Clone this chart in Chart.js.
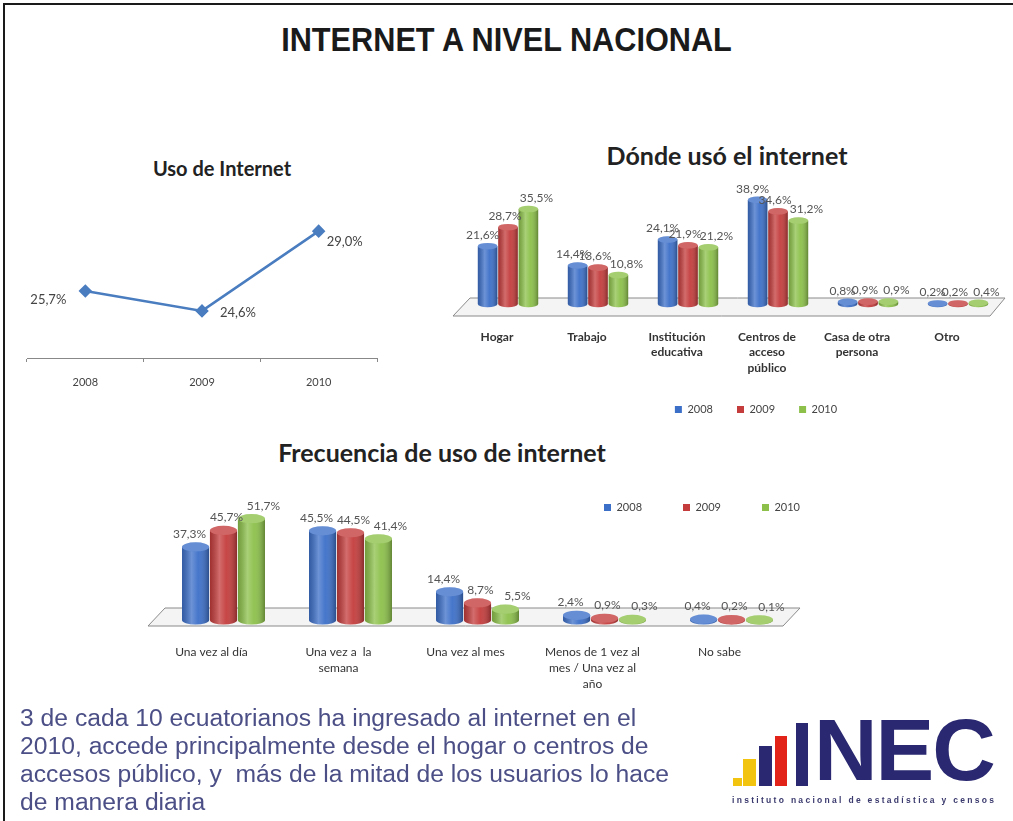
<!DOCTYPE html>
<html>
<head>
<meta charset="utf-8">
<script src="https://cdn.jsdelivr.net/npm/chart.js@4"></script>
<style>
  body { margin: 0; background: #fff; width: 1013px; height: 821px; overflow: hidden; position: relative; }
  .frame { position: absolute; left: 3px; top: 3px; width: 1010px; height: 818px; border-left: 2px solid #1a1a1a; border-top: 2px solid #1a1a1a; }
  .main-title { position: absolute; left: 0; top: 22px; width: 1013px; text-align: center; font: bold 33px "Liberation Sans Narrow", "Liberation Sans", sans-serif; line-height: 36px; color: #1a1a1a; transform: scaleX(0.93); }
  .chart-title { position: absolute; font-family: Lato, "Open Sans", sans-serif; font-weight: bold; color: #222; white-space: nowrap; transform: translate(-50%, -50%); }
  .box { position: absolute; }
  .note { position: absolute; left: 20px; top: 704px; font: 24.7px "Liberation Sans", Arial, sans-serif; line-height: 28px; color: #4b4f86; white-space: pre; }
  .logo { position: absolute; left: 730px; top: 718px; width: 270px; height: 90px; }
  .logo .bar { position: absolute; bottom: 22px; }
  .logo .nec { position: absolute; left: 84px; top: -12px; font: bold 88px "Liberation Sans", Arial, sans-serif; color: #2a2870; letter-spacing: -2px; line-height: 88px; }
  .logo .sub { position: absolute; left: 2px; top: 77px; font: bold 8.5px "Liberation Sans", Arial, sans-serif; color: #3b3a6e; letter-spacing: 2.3px; white-space: nowrap; }
</style>
</head>
<body>
<div class="frame"></div>
<div class="main-title">INTERNET A NIVEL NACIONAL</div>

<div class="chart-title" style="left:222px; top:168px; font-size:20px;">Uso de Internet</div>
<div class="chart-title" style="left:727px; top:155px; font-size:25px;">Dónde usó el internet</div>
<div class="chart-title" style="left:442px; top:452px; font-size:25px;">Frecuencia de uso de internet</div>

<div class="box" style="left:15px; top:200px; width:380px; height:205px;"><canvas id="usoChart"></canvas></div>
<div class="box" style="left:440px; top:170px; width:620px; height:255px;"><canvas id="dondeChart"></canvas></div>
<div class="box" style="left:100px; top:490px; width:720px; height:215px;"><canvas id="frecChart"></canvas></div>

<div class="note">3 de cada 10 ecuatorianos ha ingresado al internet en el
2010, accede principalmente desde el hogar o centros de
accesos público, y  más de la mitad de los usuarios lo hace
de manera diaria</div>

<div class="logo">
  <div class="bar" style="left:3px; width:9px; height:8px; background:#f2c40f;"></div>
  <div class="bar" style="left:13px; width:13px; height:27px; background:#f2c40f;"></div>
  <div class="bar" style="left:29px; width:13px; height:40px; background:#2a2870;"></div>
  <div class="bar" style="left:45px; width:12px; height:50px; background:#e2231a;"></div>
  <div class="bar" style="left:66px; width:12px; height:63px; background:#2a2870;"></div>
  <div class="nec">NEC</div>
  <div class="sub">instituto nacional de estadística y censos</div>
</div>

<script>
  // ---- data ----
  const usoYears = ['2008', '2009', '2010'];
  const usoValues = [25.7, 24.6, 29.0];

  const seriesYears = ['2008', '2009', '2010'];
  const seriesColors = ['#3c6fc8', '#c43c3c', '#8cc04a'];

  const dondeCats = [['Hogar'], ['Trabajo'], ['Institución', 'educativa'], ['Centros de', 'acceso', 'público'], ['Casa de otra', 'persona'], ['Otro']];
  const donde2008 = [21.6, 14.4, 24.1, 38.9, 0.8, 0.2];
  const donde2009 = [28.7, 13.6, 21.9, 34.6, 0.9, 0.2];
  const donde2010 = [35.5, 10.8, 21.2, 31.2, 0.9, 0.4];

  const frecCats = [['Una vez al día'], ['Una vez a  la', 'semana'], ['Una vez al mes'], ['Menos de 1 vez al', 'mes / Una vez al', 'año'], ['No sabe']];
  const frec2008 = [37.3, 45.5, 14.4, 2.4, 0.4];
  const frec2009 = [45.7, 44.5, 8.7, 0.9, 0.2];
  const frec2010 = [51.7, 41.4, 5.5, 0.3, 0.1];

  const FONT = 'Lato, "Open Sans", sans-serif';
  function pct(v) { return v.toFixed(1).replace('.', ',') + '%'; }

  // value labels next to each point / bar
  const valueLabels = {
    id: 'valueLabels',
    afterDatasetsDraw(chart, args, opts) {
      const ctx = chart.ctx;
      ctx.save();
      ctx.font = opts.font || ('12px ' + FONT);
      ctx.fillStyle = opts.color || '#555';
      ctx.textAlign = 'center';
      ctx.textBaseline = 'middle';
      chart.data.datasets.forEach((ds, di) => {
        const meta = chart.getDatasetMeta(di);
        meta.data.forEach((el, i) => {
          let dx = 0, dy = opts.dy || -12;
          if (opts.offsets) { dx = opts.offsets[i][0]; dy = opts.offsets[i][1]; }
          if (opts.dsDx) dx += opts.dsDx[di];
          ctx.fillText(pct(ds.data[i]), el.x + dx, el.y + dy);
        });
      });
      ctx.restore();
    }
  };

  // thin 3D-ish floor under the bars
  const floor = {
    id: 'floor',
    beforeDatasetsDraw(chart, args, o) {
      const a = chart.chartArea;
      const y0 = chart.scales.y.getPixelForValue(0);
      const ctx = chart.ctx;
      ctx.save();
      ctx.beginPath();
      ctx.moveTo(a.left + o.backL, y0 + o.back);
      ctx.lineTo(a.right + o.backR, y0 + o.back);
      ctx.lineTo(a.right + o.frontR, y0 + o.front);
      ctx.lineTo(a.left + o.frontL, y0 + o.front);
      ctx.closePath();
      ctx.fillStyle = '#f4f4f4';
      ctx.fill();
      ctx.strokeStyle = '#8a8a8a';
      ctx.lineWidth = 1;
      ctx.stroke();
      ctx.restore();
    }
  };

  // cylinder shading on top of the flat bars
  const cylinders = {
    id: 'cylinders',
    afterDatasetsDraw(chart) {
      const ctx = chart.ctx;
      ctx.save();
      chart.data.datasets.forEach((ds, di) => {
        const meta = chart.getDatasetMeta(di);
        meta.data.forEach(el => {
          const p = el.getProps(['x', 'y', 'base', 'width'], true);
          const l = p.x - p.width / 2;
          const ry = p.width * 0.17;
          const g = ctx.createLinearGradient(l, 0, l + p.width, 0);
          g.addColorStop(0, 'rgba(0,0,0,0.18)');
          g.addColorStop(0.35, 'rgba(255,255,255,0.25)');
          g.addColorStop(0.6, 'rgba(255,255,255,0.05)');
          g.addColorStop(1, 'rgba(0,0,0,0.3)');
          ctx.beginPath();
          ctx.ellipse(p.x, p.base, p.width / 2, ry, 0, 0, Math.PI);
          ctx.fillStyle = ds.backgroundColor;
          ctx.fill();
          ctx.fillStyle = g;
          ctx.fill();
          ctx.fillRect(l, p.y, p.width, p.base - p.y);
          ctx.beginPath();
          ctx.ellipse(p.x, p.y, p.width / 2, ry, 0, 0, Math.PI * 2);
          ctx.fillStyle = ds.backgroundColor;
          ctx.fill();
          ctx.fillStyle = 'rgba(255,255,255,0.22)';
          ctx.fill();
        });
      });
      ctx.restore();
    }
  };

  function legendLabels(spacer) {
    return {
      font: { family: FONT, size: 11 },
      color: '#444',
      boxWidth: 7,
      boxHeight: 7,
      padding: 10,
      generateLabels(chart) {
        const items = Chart.defaults.plugins.legend.labels.generateLabels(chart);
        return items.map((it, i) => Object.assign(it, { text: i < items.length - 1 ? it.text + spacer : it.text }));
      }
    };
  }

  function barSets(arrs, cp, bp) {
    return arrs.map((arr, i) => ({
      label: seriesYears[i],
      data: arr,
      backgroundColor: seriesColors[i],
      borderWidth: 0,
      categoryPercentage: cp,
      barPercentage: bp,
      clip: false
    }));
  }

  // invisible axis used only to reserve room beside the plot
  function spacerAxis(pos, w) {
    return {
      position: pos, display: true,
      grid: { display: false }, border: { display: false }, ticks: { display: false },
      afterFit(s) { s.width = w; }
    };
  }

  Chart.defaults.animation = false;
  Chart.defaults.responsive = true;
  Chart.defaults.maintainAspectRatio = false;

  // ---- Uso de Internet ----
  new Chart(document.getElementById('usoChart'), {
    type: 'line',
    data: {
      labels: usoYears,
      datasets: [{
        data: usoValues,
        borderColor: '#4a7dc0',
        backgroundColor: '#4a7dc0',
        borderWidth: 2.5,
        pointStyle: 'rectRot',
        pointRadius: 5,
        tension: 0
      }]
    },
    options: {
      layout: { padding: { left: 12, right: 18, top: 13, bottom: 7 } },
      plugins: {
        legend: { display: false },
        tooltip: { enabled: false },
        valueLabels: { font: '13px ' + FONT, color: '#444', offsets: [[-37, 9], [36, 2], [26, 11]] }
      },
      scales: {
        x: {
          offset: true,
          grid: { offset: true, drawOnChartArea: false, tickLength: 4, color: '#888' },
          border: { color: '#888' },
          ticks: { padding: 14, color: '#444', font: { family: FONT, size: 11 } },
          afterFit(s) { s.height = 40; }
        },
        y: { display: false, min: 22, max: 30 }
      }
    },
    plugins: [valueLabels]
  });

  // ---- Dónde usó el internet ----
  new Chart(document.getElementById('dondeChart'), {
    type: 'bar',
    data: { labels: dondeCats, datasets: barSets([donde2008, donde2009, donde2010], 0.68, 0.96) },
    options: {
      layout: { padding: { left: 12, right: 0, top: 27, bottom: 0 } },
      plugins: {
        legend: { position: 'bottom', labels: legendLabels('     ') },
        tooltip: { enabled: false },
        floor: { back: -6, front: 12, backL: 7, backR: 2, frontL: -10, frontR: -13 },
        valueLabels: { dy: -11, dsDx: [-5, -3, 8] }
      },
      scales: {
        x: {
          grid: { display: false, drawTicks: false },
          border: { display: false },
          ticks: { padding: 25, labelOffset: -11, color: '#333', font: { family: FONT, size: 12, weight: 'bold', lineHeight: 1.3 } },
          afterFit(s) { s.height = 90; }
        },
        y: Object.assign(spacerAxis('left', 11), { min: 0, max: 40 }),
        y2: spacerAxis('right', 57)
      }
    },
    plugins: [floor, cylinders, valueLabels]
  });

  // ---- Frecuencia de uso de internet ----
  new Chart(document.getElementById('frecChart'), {
    type: 'bar',
    data: { labels: frecCats, datasets: barSets([frec2008, frec2009, frec2010], 0.66, 0.97) },
    options: {
      layout: { padding: { left: 0, right: 10, top: 2, bottom: 5 } },
      plugins: {
        legend: { position: 'top', align: 'end', labels: legendLabels('           ') },
        tooltip: { enabled: false },
        floor: { back: -12, front: 6, backL: 5, backR: 5, frontL: -12, frontR: -12 },
        valueLabels: { dy: -13, dsDx: [-6, 3, 12] }
      },
      scales: {
        x: {
          grid: { display: false, drawTicks: false },
          border: { display: false },
          ticks: { padding: 24, labelOffset: -12, color: '#333', font: { family: FONT, size: 12, lineHeight: 1.33 } },
          afterFit(s) { s.height = 80; }
        },
        y: Object.assign(spacerAxis('left', 60), { min: 0, max: 49.5 }),
        y2: spacerAxis('right', 15)
      }
    },
    plugins: [floor, cylinders, valueLabels]
  });
</script>
</body>
</html>
